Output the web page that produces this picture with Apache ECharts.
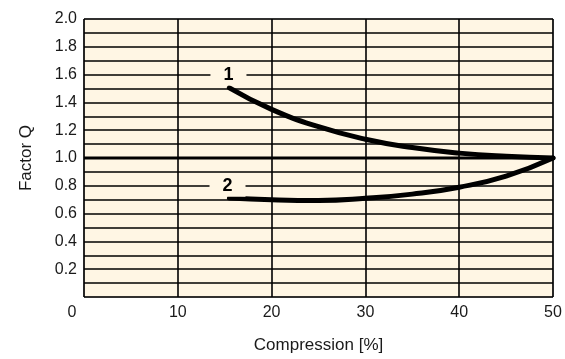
<!DOCTYPE html>
<html>
<head>
<meta charset="utf-8">
<script src="https://cdn.jsdelivr.net/npm/echarts@6/dist/echarts.min.js"></script>
<style>
html,body{margin:0;padding:0;background:#fff;}
#chart{width:565px;height:359px;}
</style>
</head>
<body>
<div id="chart"></div>
<script>
// Curve 1 (Compression %, Factor Q)
var curve1X = [15.5, 20, 25, 30, 35, 40, 45, 50];
var curve1Y = [1.505, 1.35, 1.225, 1.135, 1.075, 1.035, 1.012, 1.0];
// Curve 2
var curve2X = [15.5, 20, 25, 30, 35, 40, 45, 50];
var curve2Y = [0.712, 0.70, 0.695, 0.71, 0.74, 0.79, 0.87, 1.0];
// Curve labels
var labelNames = ['1', '2'];
var labelX = [15.4, 15.3];
var labelY = [1.6, 0.8];
// Axis ticks
var xTicks = [0, 10, 20, 30, 40, 50];
var yTickLabels = ['0.2','0.4','0.6','0.8','1.0','1.2','1.4','1.6','1.8','2.0'];

function pairs(xs, ys){ return xs.map(function(x,i){ return [x, ys[i]]; }); }

var chart = echarts.init(document.getElementById('chart'), null, {renderer:'canvas'});
var font = 'Liberation Sans, Arial, Helvetica, sans-serif';
var bg = '#FFF6E4';

chart.setOption({
  animation:false,
  backgroundColor:'#ffffff',
  grid:{left:84, right:12, top:19, bottom:60, show:true, backgroundColor:bg, borderColor:'#888', borderWidth:1},
  xAxis:{
    type:'value', min:0, max:50, interval:10,
    name:'Compression [%]', nameLocation:'middle', nameGap:40,
    nameTextStyle:{fontFamily:font, fontSize:17, color:'#1a1a1a'},
    axisLine:{show:false}, axisTick:{show:false},
    axisLabel:{fontFamily:font, fontSize:16, color:'#1a1a1a', margin:8,
      formatter:function(v){ return xTicks.indexOf(v) >= 0 ? (v === 0 ? '{z|0}' : String(v)) : ''; },
      rich:{z:{fontFamily:font, fontSize:16, color:'#1a1a1a', padding:[0,24,0,0]}}},
    splitLine:{show:true, lineStyle:{color:'#000', width:1.6}}
  },
  yAxis:{
    type:'value', min:0, max:2, interval:0.1,
    name:'Factor Q', nameLocation:'middle', nameGap:49, nameRotate:90,
    nameTextStyle:{fontFamily:font, fontSize:17, color:'#1a1a1a'},
    axisLine:{show:false}, axisTick:{show:false},
    axisLabel:{fontFamily:font, fontSize:16, color:'#1a1a1a', margin:7,
      formatter:function(v){ var s = v.toFixed(1); return yTickLabels.indexOf(s) >= 0 ? s : ''; }},
    splitLine:{show:true, lineStyle:{color:'#000', width:1.6}}
  },
  series:[
    {type:'line', data:[[0,1],[50,1]], symbol:'none', silent:true,
      lineStyle:{color:'#000', width:3}, z:2},
    {type:'line', data:pairs(curve1X, curve1Y), smooth:true, symbol:'none',
      lineStyle:{color:'#000', width:5, cap:'round'}, z:3},
    {type:'line', data:pairs(curve2X, curve2Y), smooth:true, symbol:'none',
      lineStyle:{color:'#000', width:5, cap:'round'}, z:3},
    {type:'scatter', symbolSize:0, z:4, silent:true, itemStyle:{color:'#000', opacity:1},
      data:labelNames.map(function(n,i){ return {name:n, value:[labelX[i], labelY[i]]}; }),
      label:{show:true, position:'inside', formatter:'{b}', fontFamily:font, fontSize:18, fontWeight:'bold',
        color:'#000', opacity:1, textBorderWidth:0, textBorderColor:'transparent', backgroundColor:bg, padding:[2,13,2,13]}}
  ]
});
</script>
</body>
</html>
